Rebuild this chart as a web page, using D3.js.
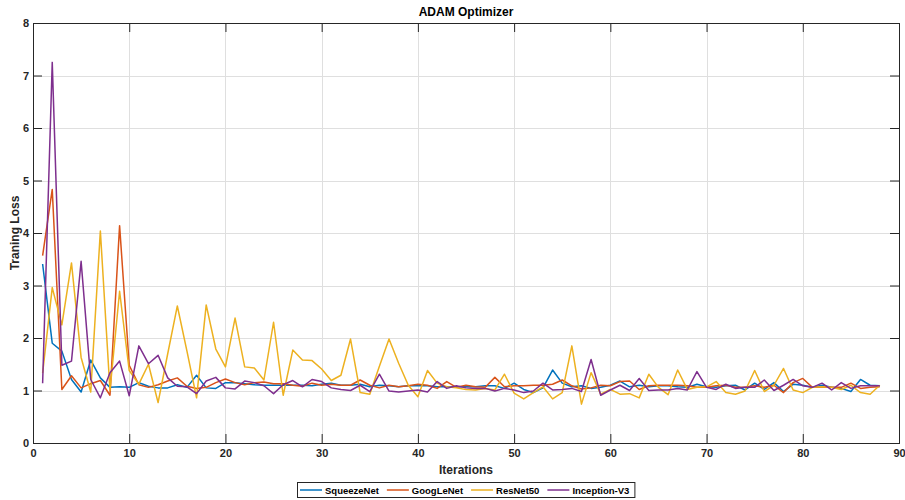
<!DOCTYPE html>
<html>
<head>
<meta charset="utf-8">
<script src="https://cdn.jsdelivr.net/npm/d3@7/dist/d3.min.js"></script>
<style>
  body { margin: 0; background: #fff; }
  svg { font-family: "Liberation Sans", Arial, Helvetica, sans-serif; font-weight: bold; }
  .grid line { stroke: #dfdfdf; stroke-width: 1; }
  .axis text { fill: #262626; font-size: 11px; font-weight: bold; }
  .axis line { stroke: #262626; }
</style>
</head>
<body>
<svg id="chart" width="905" height="500"></svg>
<script>
// values, iterations 1..88
var iterations = d3.range(1, 89);

var squeezeNet = [3.41, 1.9, 1.75, 1.21, 0.97, 1.58, 1.24, 1.06, 1.07, 1.06,
  1.15, 1.08, 1.05, 1.05, 1.11, 1.06, 1.29, 1.05, 1.04, 1.15,
  1.15, 1.13, 1.11, 1.1, 1.1, 1.1, 1.1, 1.1, 1.09, 1.12,
  1.14, 1.1, 1.1, 1.12, 1.07, 1.1, 1.09, 1.07, 1.09, 1.09,
  1.09, 1.07, 1.07, 1.07, 1.07, 1.07, 1.09, 1.09, 1.04, 1.14,
  1.02, 0.96, 1.05, 1.39, 1.14, 1.07, 1.09, 1.04, 1.06, 1.1,
  1.18, 1.07, 1.1, 1.07, 1.09, 1.09, 1.07, 1.06, 1.12, 1.07,
  1.06, 1.09, 1.1, 1.01, 1.14, 1.02, 1.15, 0.98, 1.12, 1.1,
  1.06, 1.1, 1.06, 1.04, 0.98, 1.21, 1.1, 1.09];

var googLeNet = [3.57, 4.83, 1.02, 1.28, 1.05, 1.13, 1.19, 0.91, 4.14, 1.48,
  1.11, 1.06, 1.11, 1.18, 1.24, 1.08, 1.04, 1.06, 1.15, 1.22,
  1.15, 1.11, 1.15, 1.16, 1.13, 1.13, 1.1, 1.08, 1.14, 1.1,
  1.12, 1.1, 1.1, 1.2, 1.1, 1.05, 1.1, 1.07, 1.09, 1.12,
  1.1, 1.04, 1.17, 1.06, 1.1, 1.07, 1.06, 1.25, 1.07, 1.09,
  1.09, 1.1, 1.1, 1.12, 1.2, 1.09, 1.03, 1.05, 1.1, 1.09,
  1.17, 1.18, 1.02, 1.09, 1.1, 1.1, 1.1, 1.09, 1.06, 1.06,
  1.09, 1.1, 1.06, 1.06, 1.09, 1.06, 1.1, 0.96, 1.15, 1.23,
  1.06, 1.06, 1.06, 1.06, 1.14, 1.04, 1.06, 1.07];

var resNet50 = [1.33, 2.96, 2.25, 3.43, 1.63, 0.97, 4.04, 1.0, 2.89, 1.38,
  1.12, 1.5, 0.77, 1.7, 2.61, 1.75, 0.86, 2.63, 1.79, 1.45,
  2.38, 1.45, 1.43, 1.2, 2.3, 0.91, 1.77, 1.58, 1.57, 1.41,
  1.19, 1.29, 1.98, 0.96, 0.93, 1.46, 1.98, 1.52, 1.1, 0.88,
  1.38, 1.14, 1.07, 1.05, 1.02, 1.01, 1.04, 1.01, 1.31, 0.95,
  0.84, 0.96, 1.07, 0.84, 0.96, 1.85, 0.74, 1.34, 0.93, 1.02,
  0.93, 0.94, 0.86, 1.31, 1.06, 0.92, 1.39, 1.02, 1.06, 1.07,
  1.17, 0.96, 0.93, 0.99, 1.38, 0.98, 1.1, 1.42, 1.01, 0.96,
  1.06, 1.07, 1.06, 1.02, 1.1, 0.96, 0.93, 1.1];

var inceptionV3 = [1.14, 7.25, 1.48, 1.56, 3.46, 1.21, 0.86, 1.34, 1.56, 0.9,
  1.85, 1.51, 1.67, 1.24, 1.08, 1.07, 0.94, 1.18, 1.25, 1.05,
  1.03, 1.18, 1.15, 1.09, 0.94, 1.11, 1.19, 1.07, 1.21, 1.17,
  1.05, 1.02, 1.0, 1.1, 0.98, 1.31, 0.99, 0.97, 0.99, 1.01,
  0.97, 1.17, 1.04, 1.09, 1.05, 1.04, 1.04, 0.99, 1.04, 1.01,
  0.96, 0.99, 1.14, 1.01, 1.02, 1.04, 0.98, 1.59, 0.91, 1.01,
  1.1, 1.0, 1.23, 1.0, 1.01, 1.01, 1.04, 1.01, 1.36, 1.06,
  1.02, 1.12, 1.04, 1.06, 1.06, 1.2, 1.0, 1.1, 1.21, 1.09,
  1.06, 1.14, 1.01, 1.15, 1.04, 1.09, 1.09, 1.09];

var seriesNames = ["SqueezeNet", "GoogLeNet", "ResNet50", "Inception-V3"];
var seriesColors = ["#0072BD", "#D95319", "#EDB120", "#7E2F8E"];
var xTicks = [0, 10, 20, 30, 40, 50, 60, 70, 80, 90];
var yTicks = [0, 1, 2, 3, 4, 5, 6, 7, 8];

var series = [squeezeNet, googLeNet, resNet50, inceptionV3];

var svg = d3.select("#chart"),
    margin = {left: 33, right: 6, top: 23, bottom: 57},
    width = +svg.attr("width") - margin.left - margin.right,
    height = +svg.attr("height") - margin.top - margin.bottom;

var x = d3.scaleLinear().domain([0, 90]).range([0, width]),
    y = d3.scaleLinear().domain([0, 8]).range([height, 0]);

var g = svg.append("g")
  .attr("transform", "translate(" + margin.left + "," + margin.top + ")");

// grid
g.append("g").attr("class", "grid")
  .selectAll("line.gx").data(xTicks.slice(1, -1)).enter().append("line")
    .attr("x1", function(d) {return Math.round(x(d)) + 0.5;})
    .attr("x2", function(d) {return Math.round(x(d)) + 0.5;})
    .attr("y1", 0).attr("y2", height);
g.select(".grid")
  .selectAll("line.gy").data(yTicks.slice(1, -1)).enter().append("line")
    .attr("y1", function(d) {return Math.round(y(d)) + 0.5;})
    .attr("y2", function(d) {return Math.round(y(d)) + 0.5;})
    .attr("x1", 0).attr("x2", width);

// lines
var line = d3.line()
  .x(function(d, i) {return x(iterations[i]);})
  .y(function(d) {return y(d);});

series.forEach(function(s, i) {
  g.append("path")
    .datum(s)
    .attr("fill", "none")
    .attr("stroke", seriesColors[i])
    .attr("stroke-width", 1.5)
    .attr("stroke-linejoin", "round")
    .attr("d", line);
});

// axes, ticks pointing inward on all four sides
var tickLen = 9;
g.append("g")
  .attr("class", "axis axis--x")
  .attr("transform", "translate(0," + height + ")")
  .call(d3.axisBottom(x).tickValues(xTicks).tickSizeInner(-tickLen).tickSizeOuter(0).tickPadding(6));
g.append("g")
  .attr("class", "axis axis--x2")
  .call(d3.axisTop(x).tickValues(xTicks).tickSizeInner(-tickLen).tickSizeOuter(0).tickFormat(""));
g.append("g")
  .attr("class", "axis axis--y")
  .call(d3.axisLeft(y).tickValues(yTicks).tickSizeInner(-tickLen).tickSizeOuter(0).tickPadding(4));
g.append("g")
  .attr("class", "axis axis--y2")
  .attr("transform", "translate(" + width + ",0)")
  .call(d3.axisRight(y).tickValues(yTicks).tickSizeInner(-tickLen).tickSizeOuter(0).tickFormat(""));

g.selectAll(".axis path.domain").remove();

// box
g.append("rect")
  .attr("x", 0.5).attr("y", 0.5)
  .attr("width", width).attr("height", height)
  .attr("fill", "none")
  .attr("stroke", "#262626")
  .attr("stroke-width", 1);

// title and labels
svg.append("text")
  .attr("x", margin.left + width / 2)
  .attr("y", 16)
  .attr("text-anchor", "middle")
  .style("font-size", "12px")
  .style("fill", "#000")
  .text("ADAM Optimizer");

svg.append("text")
  .attr("x", margin.left + width / 2)
  .attr("y", margin.top + height + 31)
  .attr("text-anchor", "middle")
  .style("font-size", "12px")
  .style("fill", "#262626")
  .text("Iterations");

svg.append("text")
  .attr("transform", "translate(19," + (margin.top + height / 2) + ") rotate(-90)")
  .attr("text-anchor", "middle")
  .style("font-size", "12px")
  .style("fill", "#262626")
  .text("Traning Loss");

// legend, centred under the axes
var legend = svg.append("g");
var ly = 490, lineLen = 22, textGap = 3, itemGap = 8, pad = 3;
var legendItems = legend.selectAll("g.item")
  .data(seriesNames).enter().append("g")
  .attr("class", "item");

var cursor = 0;
legendItems.each(function(name, i) {
  var item = d3.select(this);
  item.append("line")
    .attr("x1", cursor).attr("x2", cursor + lineLen)
    .attr("y1", ly).attr("y2", ly)
    .attr("stroke", seriesColors[i])
    .attr("stroke-width", 1.5);
  var t = item.append("text")
    .attr("x", cursor + lineLen + textGap)
    .attr("y", ly + 3.5)
    .style("font-size", "9.5px")
    .style("fill", "#000")
    .text(name);
  cursor += lineLen + textGap + t.node().getComputedTextLength() + itemGap;
});
var boxW = cursor - itemGap + 2 * pad + 2;
var boxX = Math.round(margin.left + width / 2 - boxW / 2);
legendItems.attr("transform", "translate(" + (boxX + pad) + ",0)");

legend.insert("rect", ":first-child")
  .attr("x", boxX + 0.5).attr("y", 482.5)
  .attr("width", boxW)
  .attr("height", 15)
  .attr("fill", "#fff")
  .attr("stroke", "#262626")
  .attr("stroke-width", 1);
</script>
</body>
</html>
